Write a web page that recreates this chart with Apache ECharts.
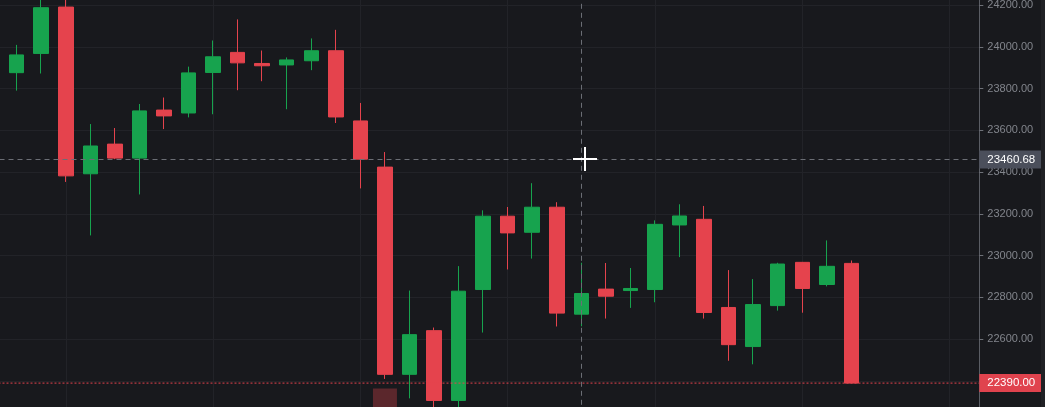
<!DOCTYPE html>
<html><head><meta charset="utf-8">
<script src="https://cdn.jsdelivr.net/npm/echarts@6/dist/echarts.min.js"></script>
<style>html,body{margin:0;padding:0;background:#18191d;overflow:hidden}#c{width:1045px;height:407px}</style>
</head><body><div id="c"></div>
<script>
// OHLC values per candle (left to right)
const opens  = [23876,23968,24190,23392,23534,23467,23697,23683,23877,23973,23920,23913,23933,23981,23645,23424,22432,22641,22307,22838,23189,23112,23232,22720,22840,22833,22838,23147,23174,22752,22565,22761,22968,22862,22963];
const closes = [23961,24187,23382,23525,23467,23693,23669,23875,23952,23923,23909,23937,23981,23664,23462,22432,22622,22307,22830,23189,23109,23232,22725,22819,22806,22843,23150,23190,22728,22574,22766,22960,22843,22949,22390];
const lows   = [23790,23872,23353,23097,23462,23293,23606,23662,23677,23792,23835,23701,23888,23635,23322,22410,22317,22240,22230,22632,22934,22986,22661,22662,22699,22750,22777,22993,22699,22497,22480,22737,22727,22853,22390];
const highs  = [24009,24240,24235,23630,23611,23726,23757,23905,24030,24131,23982,23949,24040,24081,23731,23496,22833,22656,22950,23217,23233,23347,23256,22966,22965,22941,23169,23246,23238,22931,22888,22966,22970,23073,22977];
// only the tallest volume bar reaches into view
const volumes = [null,null,null,null,null,null,null,null,null,null,null,null,null,null,null,18.5,null,null,null,null,null,null,null,null,null,null,null,null,null,null,null,null,null,null,null];
const crosshairIndex = 23;
const crosshairPrice = 23460.68;
const lastPrice = 22390.00;

const UP = '#17a34e', DOWN = '#e5434d';
const X_MIN = -4, X_MAX = 39.21;
const candles = opens.map((o, i) => [i, o, closes[i], lows[i], highs[i]]);
const vols = [];
volumes.forEach((v, i) => { if (v != null) vols.push([i, v]); });

const gridL = -81.5, gridR = 65.7;
const FONT = 'Liberation Sans, Arial, sans-serif';
const chart = echarts.init(document.getElementById('c'), null, {renderer: 'canvas'});
chart.setOption({
  animation: false,
  backgroundColor: '#18191d',
  grid: [
    {left: gridL, right: gridR, top: -36.8, bottom: -15.8, outerBoundsMode: 'none', containLabel: false},
    {left: gridL, right: gridR, top: 307, height: 100, outerBoundsMode: 'none', containLabel: false}
  ],
  xAxis: [
    {type: 'value', gridIndex: 0, min: X_MIN, max: X_MAX, interval: 6,
     axisLine: {show: false, onZero: false}, axisTick: {show: false}, axisLabel: {show: false},
     splitLine: {show: true, lineStyle: {color: '#222328', width: 1}}},
    {type: 'value', gridIndex: 1, min: X_MIN, max: X_MAX, show: false,
     axisLine: {onZero: false}, splitLine: {show: false}}
  ],
  yAxis: [
    {type: 'value', gridIndex: 0, position: 'right', min: 22200, max: 24400, interval: 200,
     axisLine: {show: true, onZero: false, lineStyle: {color: '#5a5d64', width: 1}},
     axisTick: {show: true, length: 4, lineStyle: {color: '#6e7178'}},
     axisLabel: {show: true, margin: 8, color: '#82858c', fontSize: 11, fontFamily: FONT,
                 formatter: v => v.toFixed(2)},
     splitLine: {show: true, lineStyle: {color: '#222328', width: 1}}},
    {type: 'value', gridIndex: 1, min: 0, max: 100, show: false,
     axisLine: {onZero: false}, splitLine: {show: false}}
  ],
  series: [
    {type: 'bar', xAxisIndex: 1, yAxisIndex: 1, data: vols, barWidth: 24,
     itemStyle: {color: '#5b272c'}, silent: true, z: 1},
    {type: 'line', xAxisIndex: 0, yAxisIndex: 0, silent: true, z: 5,
     data: [[X_MIN, lastPrice], [X_MAX, lastPrice]], symbol: 'none',
     lineStyle: {color: '#e5434d', type: [2, 2], width: 1},
     endLabel: {show: true, distance: 0, formatter: lastPrice.toFixed(2),
                color: '#ffffff', fontSize: 11.5, fontFamily: FONT,
                backgroundColor: '#e0434e', padding: [3, 8, 2, 8], lineHeight: 13}},
    {type: 'candlestick', xAxisIndex: 0, yAxisIndex: 0, data: candles,
     encode: {x: 0, y: [1, 2, 3, 4]}, barWidth: 15,
     itemStyle: {color: UP, color0: DOWN, borderColor: UP, borderColor0: DOWN, borderWidth: 1},
     z: 3,
     markLine: {
       silent: true, symbol: 'none', animation: false, precision: 2,
       data: [
         {xAxis: crosshairIndex,
          lineStyle: {color: '#6b6e75', type: [5, 4], width: 1},
          label: {show: false}},
         {yAxis: crosshairPrice,
          lineStyle: {color: '#6b6e75', type: [5, 4], width: 1},
          label: {show: true, position: 'end', distance: 0,
                  formatter: crosshairPrice.toFixed(2),
                  color: '#ffffff', fontSize: 11.5, fontFamily: FONT,
                  backgroundColor: '#4b4f5b', padding: [3, 8, 2, 8], lineHeight: 13}}
       ]
     }}
  ],
  graphic: [
    {type: 'rect', right: 0, top: 0, shape: {width: 4, height: 407}, style: {fill: '#202125'}, z: 10},
    {type: 'rect', left: 573, top: 158, shape: {width: 24, height: 2}, style: {fill: '#ffffff'}, z: 100},
    {type: 'rect', left: 584, top: 147, shape: {width: 2, height: 24}, style: {fill: '#ffffff'}, z: 100}
  ]
});
</script>
</body></html>
